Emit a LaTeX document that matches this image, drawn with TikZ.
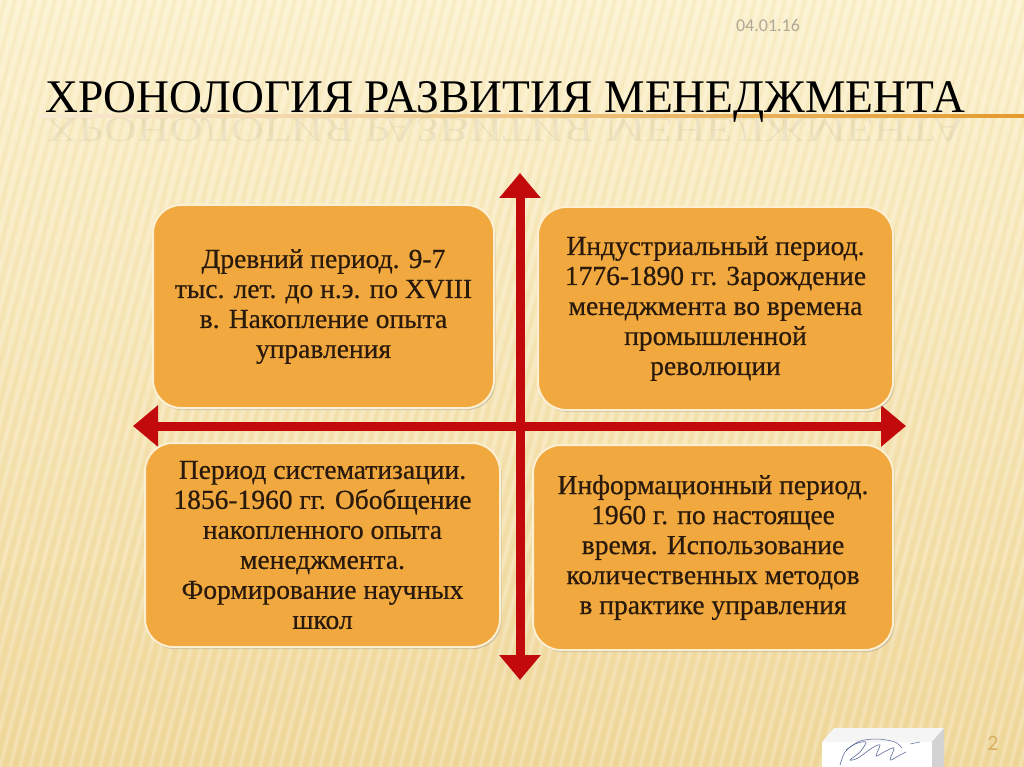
\documentclass[tikz,border=0pt]{standalone}
\usepackage{fontspec}
\setmainfont{Liberation Serif}
\newfontfamily\boxfont[FakeBold=0.5]{Liberation Serif}
\newfontfamily\datefont{Carlito}
\usetikzlibrary{arrows.meta,shadows}
\definecolor{bgtop}{HTML}{FBF1CD}
\definecolor{bgbot}{HTML}{F0D89C}
\definecolor{stripedark}{HTML}{E2C27A}
\definecolor{boxfill}{HTML}{F0A83F}
\definecolor{boxedge}{HTML}{FCEFD2}
\definecolor{arrowred}{HTML}{C20A0C}
\definecolor{textdark}{HTML}{2A1A0B}
\definecolor{titleline}{HTML}{E39B2E}
\definecolor{dategray}{HTML}{B0A896}
\definecolor{pagegold}{HTML}{D8B064}
\definecolor{inkblue}{HTML}{5A6A9A}
\begin{document}
\begin{tikzpicture}[x=1pt,y=-1pt,
  periodbox/.style={draw=boxedge, line width=2pt, fill=boxfill, rounded corners=28pt,
    inner sep=0pt, align=center, text=textdark, font=\boxfont\fontsize{27.5}{30}\selectfont,
    drop shadow={opacity=0.3, shadow xshift=1.5pt, shadow yshift=-2pt}},
  axisarrow/.style={draw=arrowred, line width=9pt,
    {Triangle[length=25pt,width=40pt]}-{Triangle[length=25pt,width=40pt]}},
  titletext/.style={inner sep=0pt, anchor=base west, text=black},
  smalltext/.style={inner sep=0pt}
]
\useasboundingbox (0,0) rectangle (1024,767);
% background
\shade[top color=bgtop, bottom color=bgbot] (0,0) rectangle (1024,767);
\begin{scope}
  \clip (0,0) rectangle (1024,767);
  \foreach \s in {-220,-210,...,1030}{
    \draw[white, opacity=0.22, line width=3pt] (\s,767) -- (\s+200,0);
    \draw[stripedark, opacity=0.12, line width=2pt] (\s+5,767) -- (\s+205,0);
  }
\end{scope}

% date
\node[smalltext, font=\datefont\fontsize{18}{18}\selectfont, text=dategray] (date) at (768,25) {04.01.16};

% title line
\shade[left color=titleline!20, right color=titleline] (38,115) rectangle (1024,117.5);

% title
\node[titletext] (title) at (45,113)
  {\resizebox{920pt}{31pt}{\fontsize{47}{47}\selectfont ХРОНОЛОГИЯ РАЗВИТИЯ МЕНЕДЖМЕНТА}};
\node[titletext, opacity=0.05] (titlerefl) at (45,119)
  {\scalebox{1}[-0.75]{\resizebox{920pt}{31pt}{\fontsize{47}{47}\selectfont ХРОНОЛОГИЯ РАЗВИТИЯ МЕНЕДЖМЕНТА}}};

% axes
\coordinate (vtop) at (520,173);
\coordinate (vbot) at (520,680);
\coordinate (hleft) at (133,426);
\coordinate (hright) at (906,426);
\draw[axisarrow] (vtop) -- (vbot);
\draw[axisarrow] (hleft) -- (hright);

% boxes
\node[periodbox, minimum width=341pt, minimum height=203pt] (ancient) at (323.5,306.5)
  {Древний период. 9-7\\тыс. лет. до н.э. по XVIII\\в. Накопление опыта\\управления};
\node[periodbox, minimum width=355pt, minimum height=203pt] (industrial) at (715.5,308.5)
  {Индустриальный период.\\1776-1890 гг. Зарождение\\менеджмента во времена\\промышленной\\революции};
\node[periodbox, minimum width=355pt, minimum height=204pt] (system) at (322.5,545)
  {Период систематизации.\\1856-1960 гг. Обобщение\\накопленного опыта\\менеджмента.\\Формирование научных\\школ};
\node[periodbox, minimum width=360pt, minimum height=205pt] (info) at (713,547.5)
  {Информационный период.\\1960 г. по настоящее\\время. Использование\\количественных методов\\в практике управления};

% signature block
\fill[white] (822,742) rectangle (932,767);
\fill[gray!8] (822,742) -- (834,728) -- (944,728) -- (932,742) -- cycle;
\fill[gray!35] (932,742) -- (944,728) -- (944,767) -- (932,767) -- cycle;
\draw[inkblue, line width=0.6pt] plot[smooth] coordinates
  {(840,765) (845,752) (855,744) (866,742) (860,752) (850,760) (858,758) (872,748) (880,745) (876,756) (884,752) (894,748) (890,760) (900,755) (906,752)};
\draw[inkblue, line width=0.5pt] plot[smooth] coordinates
  {(846,750) (860,741) (878,739) (895,742) (902,748)};
\draw[inkblue, line width=0.5pt] (910,744) -- (920,742);

% page number
\node[smalltext, font=\datefont\fontsize{22}{22}\selectfont, text=pagegold] (page) at (993,743) {2};
\end{tikzpicture}
\end{document}
